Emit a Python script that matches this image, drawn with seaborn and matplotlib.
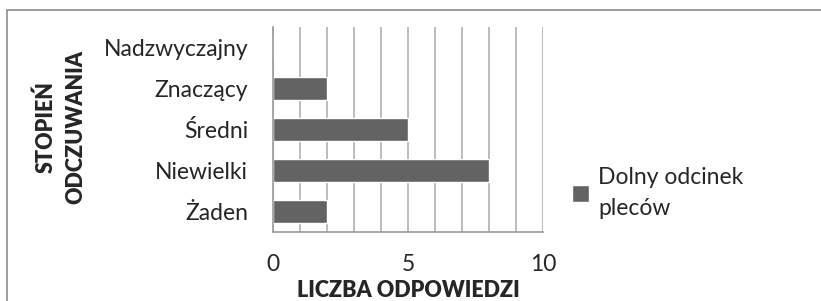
import pandas as pd
import numpy as np
import seaborn as sns
import matplotlib.pyplot as plt
from matplotlib.patches import Rectangle
from matplotlib.ticker import MultipleLocator

categories = ['Nadzwyczajny', 'Znaczący', 'Średni', 'Niewielki', 'Żaden']
values = [0, 2, 5, 8, 2]
series_name = 'Dolny odcinek\npleców'
x_ticks = [0, 5, 10]

df = pd.DataFrame({'stopien': categories, 'liczba': values})

sns.set_style('white')
plt.rcParams['font.family'] = ['Lato', 'DejaVu Sans']

fig = plt.figure(figsize=(8.21, 3.01), dpi=100)
ax = fig.add_axes([273 / 821, 1 - 232 / 301, 270 / 821, 205 / 301])

sns.barplot(data=df, y='stopien', x='liczba', orient='h', color='#636363',
            width=0.55, saturation=1, ax=ax, label=series_name)

ax.set_xlim(0, 10)
ax.set_ylim(4.5, -0.5)
ax.set_xticks(x_ticks)
ax.xaxis.set_minor_locator(MultipleLocator(1))
ax.grid(axis='x', which='both', color='#b0b0b0', lw=1.2)
ax.set_axisbelow(True)
for s in ['top', 'right']:
    ax.spines[s].set_visible(False)
for s in ['left', 'bottom']:
    ax.spines[s].set_color('#9a9a9a')
    ax.spines[s].set_linewidth(1.2)
ax.tick_params(axis='y', length=0, pad=18, labelsize=16.5)
ax.tick_params(axis='x', which='major', length=7, width=1.2, color='#9a9a9a',
               pad=9, labelsize=16.5)
ax.tick_params(axis='x', which='minor', length=0)

ax.set_xlabel('LICZBA ODPOWIEDZI', fontsize=15.5, fontweight='heavy')
ax.xaxis.set_label_coords(0.5, -0.235)
ax.xaxis.label.set_va('top')
ax.set_ylabel('STOPIEŃ\nODCZUWANIA', fontsize=15.5, fontweight='heavy',
              linespacing=1.5)
ax.yaxis.set_label_coords(-0.69, 0.51)

leg = ax.legend(loc='center left', bbox_to_anchor=(1.03, 0.19), frameon=False,
                fontsize=16.5, handlelength=0.75, handleheight=0.75, handletextpad=0.4)
leg.get_texts()[0].set_linespacing(1.55)

fig.patches.append(Rectangle((7 / 821, -0.1), 1.2, 1 - 10 / 301 + 0.1,
                             transform=fig.transFigure, fill=False,
                             edgecolor='#8c8c8c', lw=1.2))

fig.savefig('out.png', dpi=100)
